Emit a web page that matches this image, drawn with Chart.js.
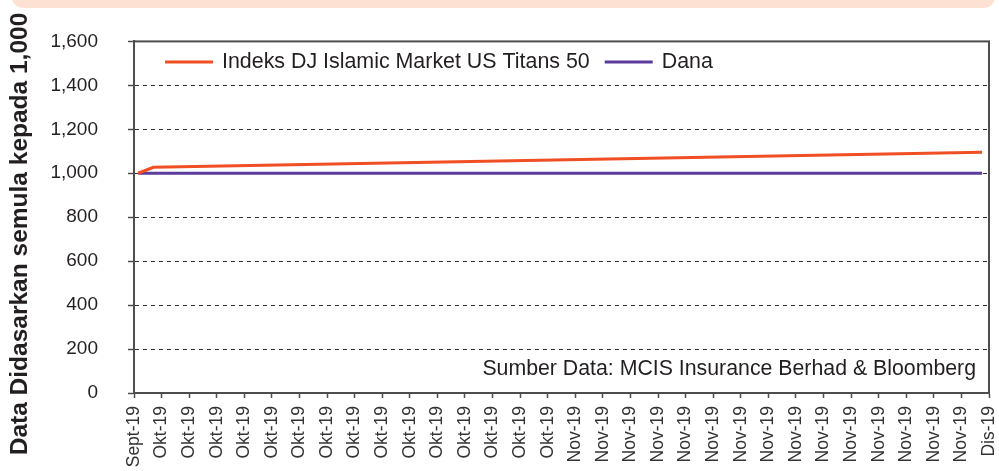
<!DOCTYPE html>
<html>
<head>
<meta charset="utf-8">
<script src="https://cdn.jsdelivr.net/npm/chart.js@4/dist/chart.umd.min.js"></script>
<style>
  html, body { margin: 0; padding: 0; background: #ffffff; }
  #wrap { position: relative; width: 999px; height: 471px; overflow: hidden; }
  #band { position: absolute; left: 12px; top: -14px; width: 983px; height: 22px;
          background: #fde1d3; border-radius: 12px; }
  #chart { position: absolute; left: 0; top: 0; }
</style>
</head>
<body>
<div id="wrap">
  <div id="band"></div>
  <canvas id="chart" width="999" height="471"></canvas>
</div>
<script>
// Tick labels along the time axis (one per tick)
const tickLabels = [
  'Sept-19',
  'Okt-19','Okt-19','Okt-19','Okt-19','Okt-19','Okt-19','Okt-19','Okt-19',
  'Okt-19','Okt-19','Okt-19','Okt-19','Okt-19','Okt-19','Okt-19',
  'Nov-19','Nov-19','Nov-19','Nov-19','Nov-19','Nov-19','Nov-19','Nov-19',
  'Nov-19','Nov-19','Nov-19','Nov-19','Nov-19','Nov-19','Nov-19',
  'Dis-19'
];
// Positions of the observations along the tick scale
const obsPositions = [0.15, 0.7, 30.75];
// Series values, rebased to 1,000
const indeksValues = [1000, 1027, 1096];
const danaValues   = [1000, 1000, 1000];
const yTicks = [0, 200, 400, 600, 800, 1000, 1200, 1400, 1600];

const seriesNames = ['Indeks DJ Islamic Market US Titans 50', 'Dana'];
const yTitle = 'Data Didasarkan semula kepada 1,000';
const sourceNote = 'Sumber Data: MCIS Insurance Berhad & Bloomberg';

const FONT = '"Liberation Sans", Arial, Helvetica, sans-serif';
const TEXT = '#231f20';

const toPoints = (vals) => vals.map((v, i) => ({ x: obsPositions[i], y: v }));

// Box around the plotting area
const framePlugin = {
  id: 'frame',
  beforeDatasetsDraw(chart) {
    const { ctx, chartArea: a } = chart;
    ctx.save();
    ctx.strokeStyle = '#4d4d4d';
    ctx.lineWidth = 2;
    ctx.strokeRect(a.left, a.top, a.right - a.left, a.bottom - a.top);
    ctx.restore();
  }
};

// Legend drawn inside the plot, plus the source note and the y-axis title
const annotatePlugin = {
  id: 'annotate',
  afterDraw(chart) {
    const { ctx } = chart;
    ctx.save();
    // legend
    let x = 165;
    const y = 62;
    ctx.font = '21.4px ' + FONT;
    ctx.textBaseline = 'middle';
    ctx.textAlign = 'left';
    chart.data.datasets.forEach((ds) => {
      ctx.strokeStyle = ds.borderColor;
      ctx.lineWidth = 3;
      ctx.beginPath();
      ctx.moveTo(x, y);
      ctx.lineTo(x + 48, y);
      ctx.stroke();
      ctx.fillStyle = TEXT;
      ctx.fillText(ds.label, x + 57, y);
      x += 57 + ctx.measureText(ds.label).width + 15;
    });
    // source note
    ctx.font = '21.3px ' + FONT;
    ctx.textAlign = 'right';
    ctx.fillText(sourceNote, 976, 369);
    // y-axis title
    ctx.font = 'bold 24.5px ' + FONT;
    ctx.translate(20, 234);
    ctx.rotate(-Math.PI / 2);
    ctx.textAlign = 'center';
    ctx.fillText(yTitle, 0, 0);
    ctx.restore();
  }
};

new Chart(document.getElementById('chart'), {
  type: 'line',
  data: {
    datasets: [
      {
        label: seriesNames[0],
        data: toPoints(indeksValues),
        borderColor: '#f04e23',
        borderWidth: 3,
        pointRadius: 0,
        tension: 0
      },
      {
        label: seriesNames[1],
        data: toPoints(danaValues),
        borderColor: '#5b3c9d',
        borderWidth: 3,
        pointRadius: 0,
        tension: 0
      }
    ]
  },
  options: {
    responsive: false,
    devicePixelRatio: 1,
    animation: false,
    layout: { padding: { top: 40, right: 10, left: 0, bottom: 0 } },
    plugins: {
      legend: { display: false },
      tooltip: { enabled: false }
    },
    scales: {
      x: {
        type: 'linear',
        min: 0,
        max: tickLabels.length - 1,
        afterFit(scale) {
          scale.height = 78;
          scale.paddingLeft = 0;
          scale.paddingRight = 0;
        },
        afterBuildTicks(scale) {
          scale.ticks = tickLabels.map((_, i) => ({ value: i }));
        },
        ticks: {
          autoSkip: false,
          minRotation: 90,
          maxRotation: 90,
          padding: 8,
          color: '#333333',
          font: { size: 17.5, family: FONT },
          callback: (v) => tickLabels[v]
        },
        grid: {
          drawOnChartArea: false,
          drawTicks: true,
          tickLength: 5,
          tickColor: '#4d4d4d',
          tickWidth: 1.5
        },
        border: { display: true, color: '#4d4d4d', width: 2 }
      },
      y: {
        min: 0,
        max: 1600,
        afterFit(scale) { scale.width = 134; },
        afterBuildTicks(scale) {
          scale.ticks = yTicks.map((v) => ({ value: v }));
        },
        ticks: {
          padding: 30,
          color: TEXT,
          font: { size: 19, family: FONT },
          callback: (v) => v.toLocaleString('en-US')
        },
        grid: {
          color: '#333333',
          lineWidth: 1,
          tickLength: 6,
          tickColor: '#4d4d4d',
          tickWidth: 1.5,
          tickBorderDash: []
        },
        border: { display: true, color: '#4d4d4d', width: 2, dash: [4, 4] }
      }
    }
  },
  plugins: [framePlugin, annotatePlugin]
});
</script>
</body>
</html>
